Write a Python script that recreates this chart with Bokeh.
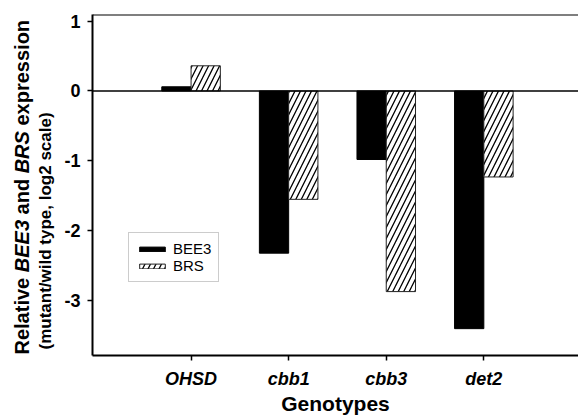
import math
from bokeh.plotting import figure
from bokeh.layouts import row
from bokeh.models import Span, Legend, LegendItem, FixedTicker, Range1d
from bokeh.core.properties import value
from bokeh.embed import file_html
from bokeh.resources import INLINE

# ---- data ----
genotypes = ["OHSD", "cbb1", "cbb3", "det2"]
bee3 = [0.06, -2.32, -0.98, -3.40]
brs = [0.36, -1.55, -2.87, -1.23]
series_names = ["BEE3", "BRS"]
y_ticks = [-3, -2, -1, 0, 1]
y_tick_labels = ["-3", "-2", "-1", "0", "1"]
ylabel_parts = [("Relative", False), ("BEE3", True), ("and", False), ("BRS", True), ("expression", False)]
ylabel_line2 = "(mutant/wild type, log2 scale)"
xlabel = "Genotypes"

FONT = "Liberation Sans"
pos = [i + 1 for i in range(len(genotypes))]
bw = 0.3
TOTAL_H = 415
LEFT_W = 56
FRAME_TOP = 14
FRAME_H = 341
BOTTOM = 60

# ---- main plot ----
p = figure(frame_width=486, frame_height=FRAME_H,
           x_range=Range1d(-0.01, 4.97), y_range=Range1d(-3.784, 1.094),
           output_backend="svg", toolbar_location=None,
           min_border_left=36, min_border_right=0, min_border_top=FRAME_TOP, min_border_bottom=BOTTOM)
p.outline_line_color = None
p.outline_line_width = 0
p.outline_line_alpha = 0
p.xgrid.visible = False
p.ygrid.visible = False
p.background_fill_color = "white"

r1 = p.vbar(x=[x - bw / 2 for x in pos], top=bee3, width=bw,
            fill_color="black", line_color="black", line_width=1)
r2 = p.vbar(x=[x + bw / 2 for x in pos], top=brs, width=bw,
            fill_color="white", line_color="#222222", line_width=1,
            hatch_pattern="/", hatch_scale=11, hatch_weight=1.3, hatch_color="black")

p.add_layout(Span(location=0, dimension="width", line_color="black", line_width=1.5))
# top border of the plot area
p.add_layout(Span(location=p.y_range.end, dimension="width", line_color="black", line_width=2))

for ax in (p.xaxis[0], p.yaxis[0]):
    ax.axis_line_width = 2
    ax.axis_line_color = "black"
    ax.major_tick_line_width = 1.5
    ax.major_tick_out = 5
    ax.major_tick_in = 0
    ax.minor_tick_line_color = None
    ax.major_label_text_font = FONT
    ax.major_label_text_font_style = "bold"
    ax.major_label_text_font_size = "18px"
    ax.major_label_text_color = "black"

p.yaxis.ticker = FixedTicker(ticks=y_ticks)
p.yaxis.major_label_overrides = dict(zip(y_ticks, y_tick_labels))
p.yaxis.major_label_standoff = 7

p.xaxis.ticker = FixedTicker(ticks=pos)
p.xaxis.major_label_overrides = dict(zip(pos, genotypes))
p.xaxis.major_label_text_font_style = "bold italic"
p.xaxis.major_label_standoff = 8
p.xaxis.axis_label = xlabel
p.xaxis.axis_label_text_font = FONT
p.xaxis.axis_label_text_font_size = "21px"
p.xaxis.axis_label_text_font_style = "bold"
p.xaxis.axis_label_text_color = "black"
p.xaxis.axis_label_standoff = 0

legend = Legend(items=[LegendItem(label=series_names[0], renderers=[r1]),
                       LegendItem(label=series_names[1], renderers=[r2])],
                location=(36, 73), orientation="vertical",
                glyph_width=32, glyph_height=6, label_height=16, label_standoff=5,
                padding=7, spacing=0, margin=0,
                label_text_font=FONT, label_text_font_size="15px", label_text_color="black",
                border_line_color="#999999", border_line_width=1,
                background_fill_color="white", background_fill_alpha=1)
p.add_layout(legend)

# ---- y-axis title panel (mixed bold / bold-italic text); frame matches main frame ----
lf = figure(frame_width=LEFT_W, frame_height=FRAME_H,
            x_range=Range1d(0, LEFT_W),
            y_range=Range1d(TOTAL_H - FRAME_TOP - FRAME_H, TOTAL_H - FRAME_TOP),
            output_backend="svg", toolbar_location=None,
            min_border_left=0, min_border_right=0, min_border_top=FRAME_TOP, min_border_bottom=BOTTOM,
            x_axis_type=None, y_axis_type=None)
lf.outline_line_color = None

# Liberation Sans Bold advance widths (per 1000 em)
W = {"R": 722, "e": 556, "l": 278, "a": 556, "t": 333, "i": 278, "v": 556, " ": 278,
     "B": 722, "E": 667, "3": 556, "n": 611, "d": 611, "S": 667, "x": 556, "p": 611,
     "r": 389, "s": 556, "o": 611}

# positions are given as page y (downwards) and converted: data y = TOTAL_H - page y
fs1 = 20
line1_x, line1_y0 = 21.7, TOTAL_H - 354.0
line2_x, line2_y0 = 45.0, TOTAL_H - 349.0
cum = 0.0
groups = {False: ([], [], []), True: ([], [], [])}
for txt, ital in ylabel_parts:
    gx, gy, gt = groups[ital]
    gx.append(line1_x)
    gy.append(line1_y0 + cum * fs1)
    gt.append(txt)
    cum += sum(W[c] for c in txt) / 1000 + W[" "] / 1000

for ital, (gx, gy, gt) in groups.items():
    lf.text(x=gx, y=gy, text=gt, angle=math.pi / 2, text_align="left", text_baseline="middle",
            text_font=value(FONT), text_font_size=value(f"{fs1}px"),
            text_font_style=value("bold italic" if ital else "bold"), text_color="black")

lf.text(x=[line2_x], y=[line2_y0], text=[ylabel_line2], angle=math.pi / 2,
        text_align="left", text_baseline="middle", text_font=value(FONT),
        text_font_size=value("17px"), text_font_style=value("bold"), text_color="black")

layout = row(lf, p)
open("out.html", "w").write(file_html(layout, INLINE))
